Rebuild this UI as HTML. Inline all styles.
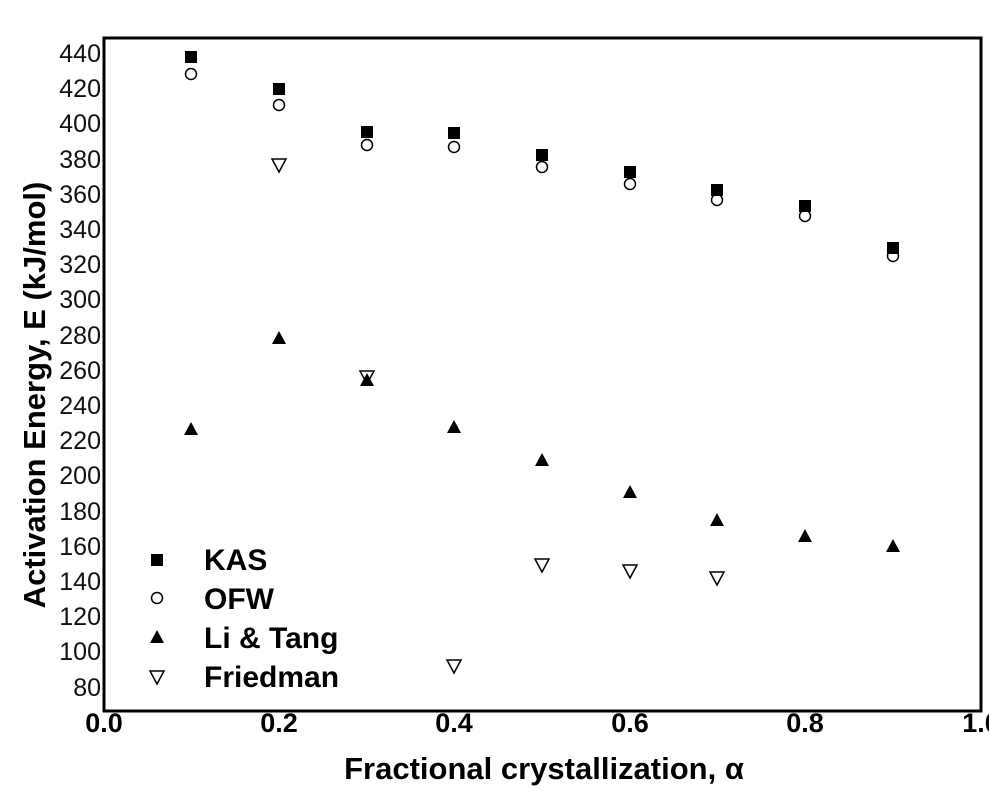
<!DOCTYPE html>
<html><head><meta charset="utf-8"><style>
body{margin:0;background:#fff}
svg{display:block}
</style></head><body>
<svg width="989" height="809" xmlns="http://www.w3.org/2000/svg" font-family="Liberation Sans, Arial, sans-serif">
<rect width="989" height="809" fill="#fff"/>
<rect x="104" y="38" width="877" height="673" fill="none" stroke="#000" stroke-width="3"/>
<g font-size="25" text-anchor="end" fill="#111">
<text x="101" y="62">440</text><text x="101" y="97">420</text><text x="101" y="132">400</text>
<text x="101" y="168">380</text><text x="101" y="203">360</text><text x="101" y="238">340</text>
<text x="101" y="273">320</text><text x="101" y="308">300</text><text x="101" y="344">280</text>
<text x="101" y="379">260</text><text x="101" y="414">240</text><text x="101" y="449">220</text>
<text x="101" y="484">200</text><text x="101" y="520">180</text><text x="101" y="555">160</text>
<text x="101" y="590">140</text><text x="101" y="625">120</text><text x="101" y="660">100</text>
<text x="101" y="696">80</text>
</g>
<g font-size="27" font-weight="bold" text-anchor="middle">
<text x="104" y="732">0.0</text><text x="279" y="732">0.2</text><text x="454" y="732">0.4</text>
<text x="630" y="732">0.6</text><text x="805" y="732">0.8</text><text x="981" y="732">1.0</text>
</g>
<text x="544" y="779" font-size="31" font-weight="bold" text-anchor="middle">Fractional crystallization, α</text>
<text transform="translate(45,395) rotate(-90)" font-size="31" font-weight="bold" text-anchor="middle">Activation Energy, E (kJ/mol)</text>
<g fill="#000">
<rect x="185" y="51" width="12" height="12"/><rect x="273" y="83" width="12" height="12"/>
<rect x="361" y="126" width="12" height="12"/><rect x="448" y="127" width="12" height="12"/>
<rect x="536" y="149" width="12" height="12"/><rect x="624" y="166" width="12" height="12"/>
<rect x="711" y="184" width="12" height="12"/><rect x="799" y="200" width="12" height="12"/>
<rect x="887" y="242" width="12" height="12"/>
</g>
<g fill="none" stroke="#000" stroke-width="1.5">
<circle cx="191" cy="74" r="5.5"/><circle cx="279" cy="105" r="5.5"/><circle cx="367" cy="145" r="5.5"/>
<circle cx="454" cy="147" r="5.5"/><circle cx="542" cy="167" r="5.5"/><circle cx="630" cy="184" r="5.5"/>
<circle cx="717" cy="200" r="5.5"/><circle cx="805" cy="216" r="5.5"/><circle cx="893" cy="256" r="5.5"/>
</g>
<g fill="#000">
<polygon points="191,422 184,435 198,435"/><polygon points="279,331 272,344 286,344"/>
<polygon points="367,373 360,386 374,386"/><polygon points="454,420 447,433 461,433"/>
<polygon points="542,453 535,466 549,466"/><polygon points="630,485 623,498 637,498"/>
<polygon points="717,513 710,526 724,526"/><polygon points="805,529 798,542 812,542"/>
<polygon points="893,539 886,552 900,552"/>
</g>
<g fill="none" stroke="#000" stroke-width="1.5">
<polygon points="272,159 286,159 279,172"/><polygon points="360,371 374,371 367,384"/>
<polygon points="447,660 461,660 454,673"/><polygon points="535,559 549,559 542,572"/>
<polygon points="623,565 637,565 630,578"/><polygon points="710,572 724,572 717,585"/>
</g>
<rect x="151" y="554" width="12" height="12" fill="#000"/>
<circle cx="157" cy="598" r="5.5" fill="none" stroke="#000" stroke-width="1.5"/>
<polygon points="157,630 150,643 164,643" fill="#000"/>
<polygon points="150,671 164,671 157,684" fill="none" stroke="#000" stroke-width="1.5"/>
<g font-size="30" font-weight="bold">
<text x="204" y="570">KAS</text><text x="204" y="609">OFW</text>
<text x="204" y="648">Li &amp; Tang</text><text x="204" y="687">Friedman</text>
</g>
</svg>
</body></html>
